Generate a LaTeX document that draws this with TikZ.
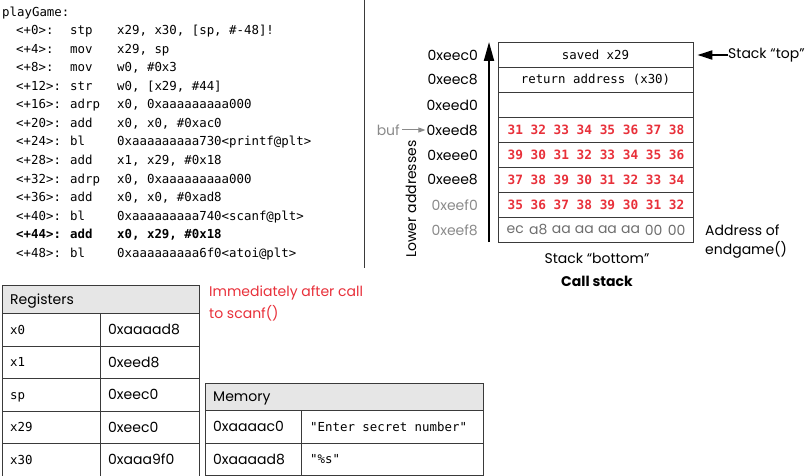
\documentclass[tikz,border=0pt]{standalone}
\usepackage{fontspec}
\setmainfont{Poppins}
\newfontfamily\codefont{DejaVu Sans Mono}
\usetikzlibrary{arrows.meta,calc}
\definecolor{redtxt}{HTML}{E8303A}
\definecolor{graytxt}{HTML}{8A8A8A}
\definecolor{bytegray}{HTML}{6E6E6E}
\definecolor{hdrfill}{HTML}{E6E6E6}
\definecolor{linec}{HTML}{3A3A3A}
\tikzset{
  codetxt/.style={anchor=base west,inner sep=0pt,font=\codefont\fontsize{12.4}{14}\selectfont},
  sanstxt/.style={inner sep=0pt,font=\fontsize{14}{16}\selectfont},
  addr/.style={sanstxt,anchor=east},
  stackrow/.style={draw=linec,line width=0.8pt,minimum width=195pt,minimum height=25pt,inner sep=0pt,
    font=\codefont\fontsize{12.4}{14}\selectfont},
  byte/.style={inner sep=0pt,text=redtxt,font=\codefont\bfseries\fontsize{12.8}{14}\selectfont},
  gbyte/.style={inner sep=0pt,text=bytegray,font=\fontsize{14}{16}\selectfont},
  cell/.style={draw=linec,line width=0.8pt,anchor=north west,inner sep=0pt},
  hdrcell/.style={cell,fill=hdrfill},
  celltxt/.style={anchor=base west,inner sep=0pt},
}
\newcommand{\codeln}[4]{%
  \node[codetxt] (c#1a) at (16,12+18.5*#1+4.5) {#2};
  \node[codetxt] (c#1b) at (70,12+18.5*#1+4.5) {#3};
  \node[codetxt] (c#1c) at (117,12+18.5*#1+4.5) {#4};}
\begin{document}
\begin{tikzpicture}[x=1pt,y=-1pt]
\useasboundingbox (0,0) rectangle (808,476);
% ---------------- code listing ----------------
\node[codetxt] (title) at (2,16.5) {playGame:};
\codeln{1}{<+0>:}{stp}{x29, x30, [sp, \#-48]!}
\codeln{2}{<+4>:}{mov}{x29, sp}
\codeln{3}{<+8>:}{mov}{w0, \#0x3}
\codeln{4}{<+12>:}{str}{w0, [x29, \#44]}
\codeln{5}{<+16>:}{adrp}{x0, 0xaaaaaaaaa000}
\codeln{6}{<+20>:}{add}{x0, x0, \#0xac0}
\codeln{7}{<+24>:}{bl}{0xaaaaaaaaa730<printf@plt>}
\codeln{8}{<+28>:}{add}{x1, x29, \#0x18}
\codeln{9}{<+32>:}{adrp}{x0, 0xaaaaaaaaa000}
\codeln{10}{<+36>:}{add}{x0, x0, \#0xad8}
\codeln{11}{<+40>:}{bl}{0xaaaaaaaaa740<scanf@plt>}
\codeln{12}{\textbf{<+44>:}}{\textbf{add}}{\textbf{x0, x29, \#0x18}}
\codeln{13}{<+48>:}{bl}{0xaaaaaaaaa6f0<atoi@plt>}
\coordinate (divtop) at (364,0);
\coordinate (divbot) at (364,268);
\draw[linec,line width=1pt] (divtop) -- (divbot);
% ---------------- call stack ----------------
\node[stackrow] (r0) at (595.5,55) {saved x29};
\node[stackrow] (r1) at (595.5,80) {return address (x30)};
\node[stackrow] (r2) at (595.5,105) {};
\node[stackrow] (r3) at (595.5,130) {};
\node[stackrow] (r4) at (595.5,155) {};
\node[stackrow] (r5) at (595.5,180) {};
\node[stackrow] (r6) at (595.5,205) {};
\node[stackrow] (r7) at (595.5,230) {};
\foreach \row/\bytes in {3/{31,32,33,34,35,36,37,38},4/{39,30,31,32,33,34,35,36},5/{37,38,39,30,31,32,33,34},6/{35,36,37,38,39,30,31,32}}{
  \foreach \b [count=\i from 0] in \bytes {
    \node[byte] (b\row\i) at ($(r\row.west)+(17.7+23.04*\i,0)$) {\b};
  }
}
\foreach \b [count=\i from 0] in {ec,a8,aa,aa,aa,aa,00,00}{
  \node[gbyte] (g\i) at ($(r7.west)+(17.7+23.04*\i,0)$) {\b};
}
\node[addr] (a0) at (478,55) {0xeec0};
\node[addr] (a1) at (478,80) {0xeec8};
\node[addr] (a2) at (478,105) {0xeed0};
\node[addr] (a3) at (478,130) {0xeed8};
\node[addr] (a4) at (478,155) {0xeee0};
\node[addr] (a5) at (478,180) {0xeee8};
\node[addr,text=graytxt] (a6) at (478,205) {0xeef0};
\node[addr,text=graytxt] (a7) at (478,230) {0xeef8};
\coordinate (arrbot) at (489,242);
\coordinate (arrtop) at (489,42);
\draw[black,line width=2pt,-{Triangle[width=10pt,length=19pt]}] (arrbot) -- (arrtop);
\node[sanstxt,rotate=90] (lower) at (411,199) {Lower addresses};
\node[sanstxt,anchor=east,text=graytxt] (buf) at (400,130) {buf};
\draw[graytxt,line width=1pt,-{Triangle[width=5pt,length=7pt]}] ([xshift=2pt]buf.east) -- ([xshift=-1pt]a3.west);
\node[sanstxt,anchor=west] (stop) at (728,55) {Stack “top”};
\draw[black,line width=2pt,-{Triangle[width=9pt,length=15pt]}] (stop.west) -- ([xshift=4pt]r0.east);
\node[sanstxt] (sbot) at (597,258) {Stack “bottom”};
\node[sanstxt,font=\bfseries\fontsize{14}{16}\selectfont] (cstack) at (597,281) {Call stack};
\node[sanstxt,anchor=west] (addrof) at (705,230) {Address of};
\node[sanstxt,anchor=west] (endg) at (705,250) {endgame()};
% ---------------- registers ----------------
\node[hdrcell,minimum width=197pt,minimum height=28pt] (reghdr) at (2,285) {};
\node[celltxt,sanstxt] (regt) at ($(reghdr.west)+(8,5)$) {Registers};
\foreach \nm/\val [count=\i from 0] in {x0/0xaaaad8,x1/0xeed8,sp/0xeec0,x29/0xeec0,x30/0xaaa9f0}{
  \node[cell,minimum width=98pt,minimum height=32.5pt] (rn\i) at (2,313+32.5*\i) {};
  \node[cell,minimum width=99pt,minimum height=32.5pt] (rv\i) at (100,313+32.5*\i) {};
  \node[celltxt,font=\codefont\fontsize{12.4}{14}\selectfont] (rnt\i) at ($(rn\i.west)+(8,4.5)$) {\nm};
  \node[celltxt,sanstxt] (rvt\i) at ($(rv\i.west)+(8,5)$) {\val};
}
\node[sanstxt,anchor=west,text=redtxt] (imm1) at (209,293) {Immediately after call};
\node[sanstxt,anchor=west,text=redtxt] (imm2) at (209,313) {to scanf()};
% ---------------- memory ----------------
\node[hdrcell,minimum width=278pt,minimum height=27pt] (memhdr) at (205,383) {};
\node[celltxt,sanstxt] (memt) at ($(memhdr.west)+(8,5)$) {Memory};
\foreach \ad/\val [count=\i from 0] in {0xaaaac0/"Enter secret number",0xaaaad8/"\%s"}{
  \node[cell,minimum width=96pt,minimum height=32.5pt] (ma\i) at (205,410+32.5*\i) {};
  \node[cell,minimum width=182pt,minimum height=32.5pt] (mv\i) at (301,410+32.5*\i) {};
  \node[celltxt,sanstxt] (mat\i) at ($(ma\i.west)+(8,5)$) {\ad};
  \node[celltxt,font=\codefont\fontsize{12.4}{14}\selectfont] (mvt\i) at ($(mv\i.west)+(9,4.5)$) {\val};
}
\end{tikzpicture}
\end{document}
